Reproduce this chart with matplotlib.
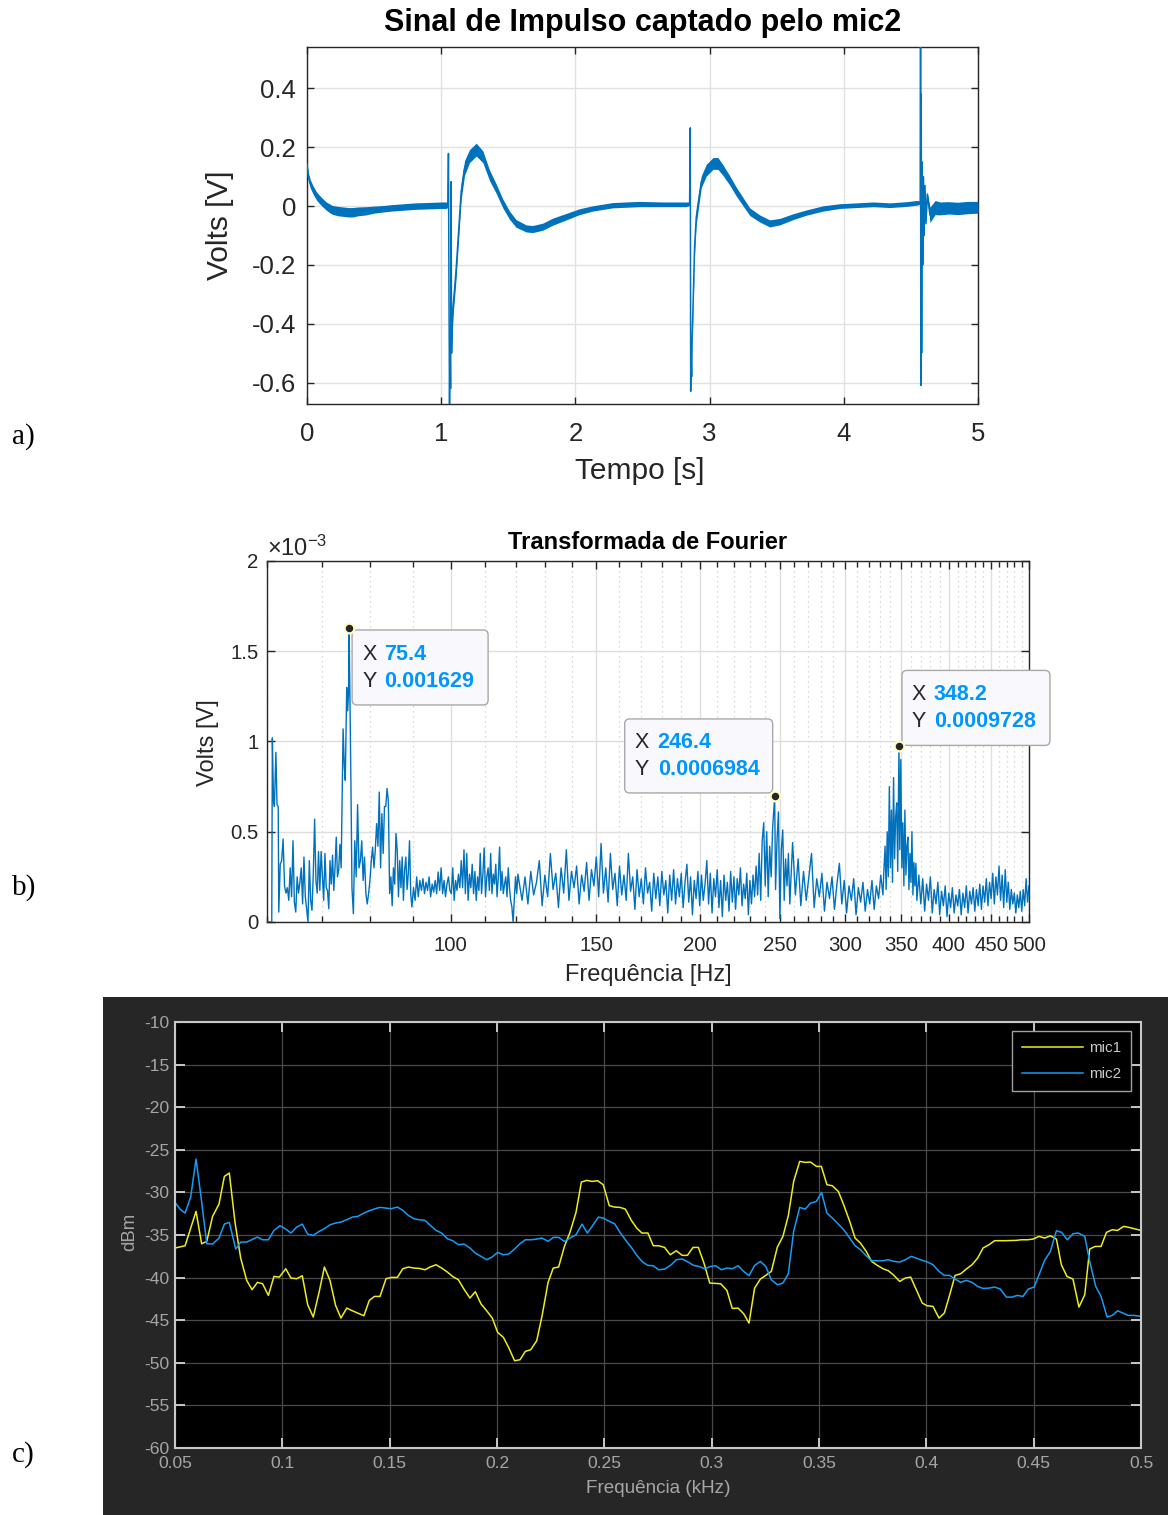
import numpy as np
import matplotlib
matplotlib.use('Agg')
import matplotlib.pyplot as plt
import matplotlib.transforms as mtransforms
from matplotlib.patches import FancyBboxPatch, Rectangle
from matplotlib.ticker import NullFormatter

plt.rcParams['font.family'] = ['Liberation Sans', 'DejaVu Sans']
plt.rcParams['mathtext.fontset'] = 'custom'
plt.rcParams['mathtext.rm'] = 'Liberation Sans'
plt.rcParams['mathtext.default'] = 'regular'
plt.rcParams['axes.unicode_minus'] = False

# ---------------- a) impulse picked up by mic2 ----------------
sig_t = [0.000, 0.010, 0.025, 0.045, 0.070, 0.094, 0.120, 0.144, 0.170, 0.190,
         0.230, 0.270, 0.310, 0.340, 0.380, 0.440, 0.500, 0.570, 0.630, 0.690,
         0.750, 0.810, 0.880, 0.940, 1.000, 1.040, 1.050, 1.054, 1.058, 1.062,
         1.066, 1.070, 1.074, 1.077, 1.082, 1.087, 1.100, 1.112, 1.131, 1.149,
         1.174, 1.211, 1.261, 1.310, 1.360, 1.409, 1.459, 1.509, 1.558, 1.633,
         1.682, 1.757, 1.831, 1.931, 2.030, 2.129, 2.278, 2.476, 2.650, 2.826,
         2.851, 2.856, 2.859, 2.862, 2.866, 2.870, 2.876, 2.888, 2.900, 2.920,
         2.938, 2.975, 3.025, 3.062, 3.100, 3.149, 3.199, 3.249, 3.299, 3.373,
         3.448, 3.522, 3.622, 3.721, 3.846, 3.970, 4.095, 4.219, 4.343, 4.468,
         4.542, 4.570, 4.572, 4.574, 4.577, 4.580, 4.584, 4.588, 4.593, 4.598,
         4.605, 4.612, 4.622, 4.642, 4.680, 4.716, 4.780, 4.850, 4.920, 5.000]
sig_v = [0.140, 0.100, 0.075, 0.055, 0.035, 0.022, 0.010, 0.000, -0.008, -0.013,
         -0.017, -0.019, -0.021, -0.021, -0.018, -0.016, -0.012, -0.009, -0.006, -0.004,
         -0.002, 0.000, 0.001, 0.002, 0.003, 0.003, 0.004, 0.179, -0.300, -0.690,
         -0.450, -0.620, 0.083, -0.500, -0.420, -0.350, -0.280, -0.210, -0.076, 0.050,
         0.130, 0.170, 0.192, 0.168, 0.105, 0.060, 0.009, -0.031, -0.059, -0.076,
         -0.078, -0.070, -0.053, -0.036, -0.019, -0.008, 0.003, 0.007, 0.006, 0.006,
         0.008, 0.266, -0.630, -0.500, -0.580, -0.450, -0.350, -0.140, -0.040, 0.026,
         0.083, 0.122, 0.145, 0.145, 0.122, 0.088, 0.049, 0.015, -0.019, -0.042,
         -0.059, -0.053, -0.036, -0.022, -0.008, 0.000, 0.003, 0.006, 0.003, 0.007,
         0.011, 0.012, 0.560, -0.610, 0.380, -0.500, 0.150, -0.200, 0.100, -0.100,
         0.070, -0.060, 0.040, -0.030, -0.005, -0.008, -0.006, -0.008, -0.005, -0.004]
# half thickness of the noise band around the signal
sig_band = [0.012, 0.014, 0.014, 0.014, 0.014, 0.014, 0.014, 0.014, 0.015, 0.015,
            0.016, 0.016, 0.016, 0.016, 0.015, 0.014, 0.012, 0.011, 0.011, 0.011,
            0.011, 0.011, 0.011, 0.011, 0.011, 0.011, 0.006, 0.003, 0.003, 0.003,
            0.003, 0.003, 0.003, 0.010, 0.020, 0.030, 0.030, 0.030, 0.030, 0.028,
            0.025, 0.022, 0.022, 0.020, 0.018, 0.016, 0.015, 0.014, 0.013, 0.012,
            0.012, 0.012, 0.012, 0.011, 0.010, 0.009, 0.009, 0.009, 0.008, 0.008,
            0.006, 0.003, 0.003, 0.003, 0.003, 0.010, 0.020, 0.025, 0.025, 0.022,
            0.020, 0.020, 0.020, 0.020, 0.018, 0.016, 0.015, 0.014, 0.013, 0.012,
            0.012, 0.011, 0.010, 0.009, 0.009, 0.008, 0.008, 0.008, 0.008, 0.008,
            0.008, 0.006, 0.003, 0.003, 0.003, 0.003, 0.003, 0.003, 0.003, 0.003,
            0.003, 0.003, 0.010, 0.026, 0.024, 0.022, 0.021, 0.021, 0.021, 0.020]
t_ticks = [0, 1, 2, 3, 4, 5]
v_ticks = [-0.6, -0.4, -0.2, 0, 0.2, 0.4]
v_ticklabels = ['-0.6', '-0.4', '-0.2', '0', '0.2', '0.4']

# ---------------- b) Fourier transform (amplitudes in 1e-3 V) ----------------
fft_freq_lo = [60.0, 60.8, 60.9, 61.1, 61.25, 61.5, 61.7, 61.9,
               62.0, 62.25, 62.5, 62.75, 63.0, 63.25, 63.5, 63.75, 64.0, 64.25,
               64.5, 64.75, 65.0, 65.25, 65.5, 65.75, 66.0, 66.25, 66.5, 66.75,
               67.0, 67.25, 67.5, 67.75, 68.0, 68.25, 68.5, 68.75, 69.0, 69.25,
               69.5, 69.75, 70.0, 70.25, 70.5, 70.75, 71.0, 71.25, 71.5, 71.75,
               72.0, 72.25, 72.5, 72.75, 73.0, 73.25, 73.5, 73.75,
               74.15, 74.4, 74.6, 74.9, 75.1, 75.3, 75.4, 75.6, 75.8, 76.0,
               76.3, 76.6, 76.9, 77.2, 77.5, 77.8, 78.1, 78.4, 78.7, 79.0,
               79.3, 79.6, 79.9, 80.2, 80.5, 80.8, 81.1, 81.4, 81.7, 82.0,
               82.3, 82.6, 82.9, 83.2, 83.5, 83.8, 84.1, 84.4, 84.7, 85.0,
               85.3, 85.6, 85.9, 86.2, 86.5, 86.8, 87.1, 87.4, 87.7, 88.0,
               88.3, 88.6, 88.9, 89.2, 89.5, 89.8,
               90.2, 90.6, 91.0, 91.4, 91.8, 92.2, 92.6, 93.0, 93.4, 93.8,
               94.2, 94.6, 95.0, 95.4, 95.8, 96.2, 96.6, 97.0, 97.4, 97.8,
               98.2, 98.6, 99.0, 99.4, 99.8, 100.2, 100.6, 101.0, 101.4, 101.8,
               102.2, 102.6, 103.0, 103.4, 103.8, 104.2, 104.6, 105.0, 105.4, 105.8,
               106.2, 106.6, 107.0, 107.4, 107.8, 108.2, 108.6, 109.0, 109.4, 109.8,
               110.2, 110.6, 111.0, 111.4, 111.8, 112.2, 112.6, 113.0, 113.4, 113.8,
               114.2, 114.6, 115.0, 115.4, 115.8, 116.2, 116.6, 117.0, 117.4, 117.8,
               118.2, 118.6, 119.0, 119.4, 119.8, 120.2, 120.6]
fft_amp_lo = [0.0, 0.0, 1.02, 0.67, 0.64, 0.94, 0.65, 0.64,
              0.055, 0.32, 0.34, 0.46, 0.20, 0.16, 0.19, 0.12, 0.30, 0.14,
              0.45, 0.11, 0.055, 0.25, 0.16, 0.22, 0.30, 0.10, 0.36, 0.14,
              0.07, 0.0, 0.34, 0.12, 0.065, 0.27, 0.57, 0.23, 0.16, 0.39,
              0.175, 0.39, 0.25, 0.12, 0.38, 0.19, 0.175, 0.074, 0.34, 0.21,
              0.37, 0.175, 0.30, 0.47, 0.25, 0.29, 0.43, 0.30,
              1.07, 0.86, 0.785, 1.30, 1.17, 1.28, 1.629, 1.17, 0.73, 0.19,
              0.046, 0.45, 0.25, 0.65, 0.30, 0.34, 0.45, 0.23, 0.36, 0.157,
              0.10, 0.157, 0.23, 0.34, 0.415, 0.30, 0.40, 0.545, 0.42, 0.72,
              0.30, 0.60, 0.38, 0.64, 0.64, 0.74, 0.67, 0.157, 0.25, 0.09,
              0.30, 0.21, 0.49, 0.40, 0.14, 0.34, 0.19, 0.36, 0.12, 0.29,
              0.36, 0.18, 0.27, 0.45, 0.157, 0.083,
              0.19, 0.12, 0.25, 0.14, 0.23, 0.175, 0.24, 0.157, 0.22, 0.175,
              0.25, 0.14, 0.21, 0.166, 0.23, 0.157, 0.277, 0.175, 0.30, 0.157,
              0.23, 0.14, 0.21, 0.25, 0.175, 0.157, 0.30, 0.12, 0.23, 0.175,
              0.265, 0.19, 0.34, 0.19, 0.40, 0.157, 0.38, 0.12, 0.265, 0.19,
              0.32, 0.157, 0.28, 0.12, 0.25, 0.175, 0.38, 0.157, 0.265, 0.41,
              0.14, 0.25, 0.30, 0.175, 0.38, 0.157, 0.265, 0.21, 0.32, 0.14,
              0.25, 0.415, 0.175, 0.28, 0.157, 0.21, 0.25, 0.14, 0.30, 0.19,
              0.12, 0.083, 0.0, 0.12, 0.25, 0.157, 0.265]
fft_freq_hi = [122, 123, 124, 125, 126, 127, 128, 129, 130, 131,
               132, 133, 134, 135, 136, 137, 138, 139, 140, 141,
               142, 143, 144, 145, 146, 147, 148, 149, 150, 151,
               152, 153, 154, 155, 156, 157, 158, 159, 160, 161,
               162, 163, 164, 165, 166, 167, 168, 169, 170, 171,
               172, 173, 174, 175, 176, 177, 178, 179, 180, 181,
               182, 183, 184, 185, 186, 187, 188, 189, 190, 191,
               192, 193, 194, 195, 196, 197, 198, 199, 200, 201,
               202, 203, 204, 205, 206, 207, 208, 209, 210, 211,
               212, 213, 214, 215, 216, 217, 218, 219, 220, 221,
               222, 223, 224, 225, 226, 227, 228, 229, 230, 231,
               232, 233, 234,
               235, 236, 237, 238, 239, 240, 241, 242, 243, 244,
               245, 246.4, 247, 248, 249, 250, 251, 252, 253, 254,
               255, 256, 257,
               259, 261, 263, 265, 267, 269, 271, 273, 275, 277,
               279, 281, 283, 285, 287, 289, 291, 293, 295, 297,
               299, 301, 303, 305, 307, 309, 311, 313, 315, 317,
               319, 321, 323, 325, 327, 329, 331, 333,
               334, 335, 336, 337, 338, 339, 340, 341, 342, 343,
               344, 345, 346, 347, 348.2, 349, 350, 351, 352, 353,
               354, 355, 356, 357, 358, 359, 360, 361, 362, 363,
               364, 365, 366,
               368, 370, 372, 374, 376, 378, 380, 382, 384, 386,
               388, 390, 392, 394, 396, 398, 400, 402, 404, 406,
               408, 410, 412, 414, 416, 418, 420, 422, 424, 426,
               428, 430, 432, 434, 436, 438, 440, 442, 444, 446,
               448, 450, 452, 454, 456, 458, 460, 462, 464, 466,
               468, 470, 472, 474, 476, 478, 480, 482, 484, 486,
               488, 490, 492, 494, 496, 498, 500]
fft_amp_hi = [0.12, 0.25, 0.10, 0.28, 0.15, 0.22, 0.34, 0.09, 0.26, 0.14,
              0.38, 0.18, 0.27, 0.08, 0.30, 0.16, 0.40, 0.12, 0.28, 0.19,
              0.31, 0.10, 0.26, 0.17, 0.33, 0.12, 0.29, 0.20, 0.36, 0.14,
              0.435, 0.16, 0.30, 0.11, 0.38, 0.18, 0.27, 0.09, 0.31, 0.15,
              0.26, 0.12, 0.38, 0.17, 0.25, 0.07, 0.29, 0.14, 0.24, 0.10,
              0.30, 0.16, 0.22, 0.06, 0.27, 0.13, 0.25, 0.09, 0.28, 0.15,
              0.23, 0.05, 0.26, 0.12, 0.29, 0.10, 0.24, 0.14, 0.27, 0.08,
              0.22, 0.32, 0.11, 0.25, 0.04, 0.23, 0.13, 0.28, 0.09, 0.26,
              0.12, 0.21, 0.34, 0.10, 0.27, 0.05, 0.24, 0.14, 0.29, 0.08,
              0.23, 0.03, 0.26, 0.12, 0.22, 0.06, 0.28, 0.11, 0.25, 0.07,
              0.24, 0.15, 0.30, 0.09, 0.21, 0.13, 0.27, 0.04, 0.23, 0.10,
              0.26, 0.14, 0.31,
              0.15, 0.38, 0.12, 0.45, 0.55, 0.20, 0.50, 0.14, 0.42, 0.25,
              0.52, 0.6984, 0.18, 0.45, 0.61, 0.02, 0.40, 0.51, 0.12, 0.35,
              0.20, 0.38, 0.10,
              0.44, 0.15, 0.35, 0.09, 0.28, 0.12, 0.25, 0.38, 0.08, 0.24,
              0.14, 0.27, 0.06, 0.22, 0.13, 0.25, 0.07, 0.21, 0.325, 0.10,
              0.23, 0.05, 0.20, 0.12, 0.24, 0.04, 0.19, 0.11, 0.22, 0.06,
              0.18, 0.10, 0.23, 0.07, 0.20, 0.13, 0.26, 0.15,
              0.30, 0.42, 0.18, 0.50, 0.25, 0.75, 0.30, 0.62, 0.22, 0.80,
              0.35, 0.58, 0.66, 0.28, 0.9728, 0.40, 0.90, 0.30, 0.55, 0.20,
              0.62, 0.26, 0.42, 0.47, 0.18, 0.38, 0.22, 0.50, 0.15, 0.33,
              0.20, 0.325, 0.12,
              0.26, 0.10, 0.24, 0.06, 0.21, 0.12, 0.25, 0.05, 0.18, 0.10,
              0.22, 0.04, 0.17, 0.09, 0.20, 0.03, 0.16, 0.08, 0.19, 0.05,
              0.15, 0.09, 0.18, 0.04, 0.16, 0.08, 0.20, 0.05, 0.17, 0.10,
              0.19, 0.06, 0.18, 0.09, 0.21, 0.07, 0.20, 0.11, 0.24, 0.09,
              0.22, 0.13, 0.27, 0.10, 0.25, 0.15, 0.31, 0.12, 0.26, 0.08,
              0.29, 0.11, 0.22, 0.07, 0.18, 0.10, 0.16, 0.05, 0.15, 0.08,
              0.17, 0.06, 0.18, 0.09, 0.24, 0.11, 0.20]
freq_ticks = [100, 150, 200, 250, 300, 350, 400, 450, 500]
freq_minor = [60, 70, 80, 90] + [f for f in range(110, 500, 10) if f % 50 != 0]
amp_ticks = [0, 0.5e-3, 1e-3, 1.5e-3, 2e-3]
amp_ticklabels = ['0', '0.5', '1', '1.5', '2']
# data tips: frequency [Hz], value [V]
tips = [(75.4, 0.001629), (246.4, 0.0006984), (348.2, 0.0009728)]
tip_text = [('75.4', '0.001629'), ('246.4', '0.0006984'), ('348.2', '0.0009728')]

# ---------------- c) spectrum of both microphones ----------------
mic1_khz = [0.0500, 0.0547, 0.0598, 0.0624, 0.0648, 0.0675, 0.0705, 0.0730, 0.0753, 0.0780,
            0.0806, 0.0834, 0.0859, 0.0884, 0.0908, 0.0935, 0.0961, 0.0986, 0.1016, 0.1040,
            0.1067, 0.1093, 0.1118, 0.1144, 0.1171, 0.1196, 0.1222, 0.1248, 0.1273, 0.1300,
            0.1326, 0.1351, 0.1380, 0.1405, 0.1429, 0.1455, 0.1483, 0.1509, 0.1536, 0.1561,
            0.1587, 0.1613, 0.1638, 0.1665, 0.1688, 0.1716, 0.1742, 0.1769, 0.1793, 0.1820,
            0.1846, 0.1874, 0.1899, 0.1925, 0.1952, 0.1978, 0.2003, 0.2030, 0.2054, 0.2082,
            0.2107, 0.2132, 0.2157, 0.2185, 0.2210, 0.2238, 0.2262, 0.2287, 0.2314, 0.2340,
            0.2368, 0.2393, 0.2418, 0.2443, 0.2469, 0.2495, 0.2523, 0.2548, 0.2573, 0.2598,
            0.2626, 0.2651, 0.2675, 0.2703, 0.2728, 0.2753, 0.2781,
            0.2807, 0.2835, 0.2863, 0.2887, 0.2913, 0.2938, 0.2964, 0.2991, 0.3016, 0.3042,
            0.3071, 0.3096, 0.3123, 0.3149, 0.3174, 0.3200, 0.3227, 0.3252, 0.3278, 0.3306,
            0.3332, 0.3357, 0.3382, 0.3410, 0.3436, 0.3461, 0.3488, 0.3511, 0.3537, 0.3562,
            0.3590, 0.3615, 0.3643, 0.3668, 0.3693, 0.3720, 0.3745, 0.3772, 0.3798, 0.3823,
            0.3849, 0.3876, 0.3902, 0.3927, 0.3953, 0.3981, 0.4003, 0.4031, 0.4059, 0.4084,
            0.4109, 0.4134, 0.4160, 0.4186, 0.4213, 0.4239, 0.4264, 0.4292, 0.4318, 0.4368,
            0.4419, 0.4443, 0.4472, 0.4497, 0.4525, 0.4551, 0.4578, 0.4606, 0.4629, 0.4655,
            0.4683, 0.4711, 0.4738, 0.4761, 0.4786, 0.4814, 0.4839, 0.4866, 0.4891, 0.4919,
            0.4944, 0.5000]
mic1_dbm = [-36.53, -36.26, -32.23, -36.03, -35.75, -32.82, -31.37, -28.12, -27.73, -33.60,
            -37.71, -40.33, -41.42, -40.56, -40.72, -42.09, -39.86, -39.94, -38.96, -40.05,
            -40.13, -39.78, -43.18, -44.63, -41.74, -38.76, -40.33, -43.26, -44.75, -43.58,
            -43.89, -44.16, -44.48, -42.68, -42.21, -42.21, -40.13, -39.98, -39.98, -38.96,
            -38.76, -38.88, -38.92, -39.08, -38.76, -38.49, -38.88, -39.35, -39.86, -40.25,
            -41.35, -42.40, -41.66, -43.07, -43.89, -44.75, -46.43, -47.02, -48.19, -49.76,
            -49.64, -48.66, -48.47, -47.41, -44.48, -40.56, -38.88, -38.76, -36.34, -34.69,
            -32.35, -28.79, -28.59, -28.71, -28.63, -29.10, -31.56, -31.72, -31.76, -31.96,
            -33.29, -34.19, -34.77, -34.77, -36.26, -36.26, -36.46,
            -37.32, -36.85, -37.39, -37.39, -36.46, -36.46, -38.29, -40.64, -40.68, -40.72,
            -41.50, -43.62, -43.58, -44.24, -45.34, -41.23, -40.17, -39.74, -39.27, -36.42,
            -35.16, -32.74, -28.71, -26.36, -26.48, -26.44, -26.95, -26.95, -29.10, -29.22,
            -29.88, -31.45, -33.40, -35.36, -35.95, -36.92, -38.10, -38.57, -38.96, -39.19,
            -39.74, -40.45, -40.05, -39.94, -41.42, -42.99, -43.30, -43.38, -44.75, -44.16,
            -42.01, -39.74, -39.55, -39.00, -38.49, -37.71, -36.53, -36.14, -35.67, -35.67,
            -35.63, -35.56, -35.56, -35.48, -35.16, -35.36, -35.09, -35.48, -38.49, -39.86,
            -40.17, -43.46, -42.01, -36.65, -36.34, -36.34, -34.69, -34.38, -34.46, -33.99,
            -34.11, -34.46]
mic2_khz = [0.0500, 0.0523, 0.0547, 0.0573, 0.0598, 0.0624, 0.0648, 0.0675, 0.0705, 0.0730,
            0.0753, 0.0783, 0.0806, 0.0834, 0.0884, 0.0908, 0.0935, 0.0961, 0.0989, 0.1016,
            0.1040, 0.1067, 0.1093, 0.1118, 0.1144, 0.1171, 0.1196, 0.1222, 0.1248, 0.1273,
            0.1300, 0.1326, 0.1351, 0.1380, 0.1405, 0.1432, 0.1455, 0.1483, 0.1506, 0.1536,
            0.1561, 0.1587, 0.1613, 0.1638, 0.1665, 0.1691, 0.1716, 0.1742, 0.1769, 0.1793,
            0.1820, 0.1846, 0.1874, 0.1899, 0.1925, 0.1952, 0.1977, 0.2003, 0.2030, 0.2054,
            0.2082, 0.2107, 0.2132, 0.2157, 0.2185, 0.2210, 0.2238, 0.2262, 0.2287, 0.2314,
            0.2340, 0.2368, 0.2396, 0.2421, 0.2446, 0.2472, 0.2495, 0.2523, 0.2548, 0.2573,
            0.2598, 0.2626, 0.2651, 0.2679, 0.2703, 0.2728, 0.2753, 0.2781,
            0.2812, 0.2835, 0.2863, 0.2890, 0.2916, 0.2941, 0.2967, 0.2994, 0.3019, 0.3045,
            0.3071, 0.3096, 0.3123, 0.3149, 0.3174, 0.3200, 0.3227, 0.3252, 0.3278, 0.3306,
            0.3332, 0.3357, 0.3382, 0.3410, 0.3436, 0.3461, 0.3488, 0.3512, 0.3537, 0.3562,
            0.3590, 0.3615, 0.3643, 0.3668, 0.3693, 0.3720, 0.3745, 0.3772, 0.3798, 0.3823,
            0.3849, 0.3876, 0.3902, 0.3930, 0.3953, 0.3981, 0.4006, 0.4031, 0.4059, 0.4084,
            0.4109, 0.4134, 0.4160, 0.4186, 0.4213, 0.4239, 0.4264, 0.4292, 0.4318, 0.4345,
            0.4373, 0.4398, 0.4424, 0.4450, 0.4475, 0.4502, 0.4528, 0.4551, 0.4578, 0.4606,
            0.4630, 0.4657, 0.4683, 0.4708, 0.4738, 0.4761, 0.4789, 0.4814, 0.4842, 0.4866,
            0.4891, 0.4916, 0.4941, 0.4969, 0.5000]
mic2_dbm = [-31.17, -31.96, -32.43, -30.55, -26.09, -31.06, -36.03, -36.06, -35.36, -33.72,
            -33.52, -36.65, -35.83, -35.83, -35.24, -35.56, -35.56, -34.46, -33.91, -34.30,
            -34.77, -34.07, -33.72, -34.89, -35.05, -34.58, -34.26, -33.80, -33.60, -33.48,
            -33.21, -32.90, -32.82, -32.43, -32.15, -31.92, -31.76, -31.84, -31.92, -31.72,
            -32.11, -32.70, -33.09, -33.21, -33.29, -33.91, -34.46, -34.77, -35.44, -35.67,
            -36.14, -36.06, -36.53, -37.12, -37.51, -37.90, -37.59, -37.04, -37.32, -37.24,
            -36.65, -36.03, -35.56, -35.56, -35.48, -35.36, -35.75, -35.28, -35.28, -35.75,
            -35.36, -34.97, -33.72, -34.77, -33.87, -32.90, -33.01, -33.40, -33.68, -34.69,
            -35.56, -36.46, -37.39, -38.18, -38.57, -38.61, -39.08, -39.00,
            -38.49, -37.90, -37.82, -38.18, -38.57, -38.69, -38.96, -38.69, -38.61, -39.08,
            -38.88, -38.96, -38.61, -39.27, -39.78, -38.57, -38.10, -38.69, -40.25, -40.84,
            -40.64, -39.55, -34.58, -31.76, -31.96, -31.25, -31.06, -30.00, -32.43, -33.01,
            -33.72, -34.38, -35.36, -36.26, -36.73, -37.43, -38.02, -38.02, -38.02, -37.90,
            -38.10, -38.18, -37.90, -37.51, -37.71, -37.98, -38.18, -38.49, -39.27, -39.74,
            -39.74, -40.17, -40.56, -40.33, -40.56, -41.03, -41.27, -41.23, -41.11, -41.35,
            -42.29, -42.29, -42.09, -42.21, -41.35, -41.11, -39.47, -37.98, -36.92, -34.50,
            -34.69, -35.56, -34.85, -34.77, -35.16, -38.10, -41.03, -42.21, -44.63, -44.44,
            -43.89, -44.16, -44.44, -44.44, -44.55]
khz_ticks = [0.05, 0.1, 0.15, 0.2, 0.25, 0.3, 0.35, 0.4, 0.45, 0.5]
khz_ticklabels = ['0.05', '0.1', '0.15', '0.2', '0.25', '0.3', '0.35', '0.4', '0.45', '0.5']
dbm_ticks = [-60, -55, -50, -45, -40, -35, -30, -25, -20, -15, -10]

MATLAB_BLUE = '#0072bd'
TXT = '#262626'
W, H = 1168.0, 1515.0


def px_box(left, top, right, bottom):
    # axes rectangle from pixel edges of the 1168x1515 canvas
    return [left / W, 1 - bottom / H, (right - left) / W, (bottom - top) / H]


fig = plt.figure(figsize=(11.68, 15.15), dpi=100)
fig.patch.set_facecolor('white')

# ---------- a) ----------
ax = fig.add_axes(px_box(307, 47, 978, 404))
t = np.array(sig_t)
v = np.array(sig_v)
band = np.array(sig_band)
ax.fill_between(t, v - band, v + band, color=MATLAB_BLUE, lw=0, zorder=3)
ax.plot(t, v, color=MATLAB_BLUE, lw=1.1, zorder=3)
ax.set_xlim(0, 5)
ax.set_ylim(-0.673, 0.541)
ax.set_xticks(t_ticks)
ax.set_xticklabels([str(x) for x in t_ticks])
ax.set_yticks(v_ticks)
ax.set_yticklabels(v_ticklabels)
ax.grid(True, color='#e1e1e1', lw=1.0)
ax.set_axisbelow(True)
ax.tick_params(direction='in', length=5, width=1.0, top=True, right=True,
               labelsize=18.5, colors=TXT)
ax.tick_params(axis='x', pad=13)
ax.tick_params(axis='y', pad=8)
for s in ax.spines.values():
    s.set_color(TXT)
    s.set_linewidth(1.0)
ax.set_ylabel('Volts [V]', fontsize=21.5, color=TXT, ha='center', va='center')
ax.yaxis.set_label_coords(-0.13, 0.5)
ax.set_xlabel('Tempo [s]', fontsize=21.5, color=TXT, ha='center', va='center')
ax.xaxis.set_label_coords(0.496, -0.188)
ax.text(0.5, 1.067, 'Sinal de Impulso captado pelo mic2', transform=ax.transAxes,
        ha='center', va='center', fontsize=22, fontweight='bold', color='black')

# ---------- b) ----------
bx = fig.add_axes(px_box(267, 561, 1029, 922))
freq = np.array(fft_freq_lo + fft_freq_hi, dtype=float)
amp = np.array(fft_amp_lo + fft_amp_hi) * 1e-3
bx.plot(freq, amp, color=MATLAB_BLUE, lw=1.0, zorder=3)
bx.set_xscale('log')
bx.set_xlim(60, 500)
bx.set_ylim(0, 2e-3)
bx.set_xticks(freq_ticks)
bx.set_xticklabels([str(f) for f in freq_ticks])
bx.set_xticks(freq_minor, minor=True)
bx.xaxis.set_minor_formatter(NullFormatter())
bx.set_yticks(amp_ticks)
bx.set_yticklabels(amp_ticklabels)
bx.grid(True, which='major', color='#dedede', lw=1.0)
bx.grid(True, which='minor', axis='x', color='#cccccc', lw=0.9, ls=(0, (1, 3)))
bx.set_axisbelow(True)
bx.tick_params(which='both', direction='in', top=True, right=True, colors=TXT, width=1.0)
bx.tick_params(which='major', length=6, labelsize=14.7)
bx.tick_params(which='minor', length=4)
bx.tick_params(axis='x', which='major', pad=10)
bx.tick_params(axis='y', pad=6)
for s in bx.spines.values():
    s.set_color(TXT)
    s.set_linewidth(1.0)
bx.set_ylabel('Volts [V]', fontsize=17, color=TXT, ha='center', va='center')
bx.yaxis.set_label_coords(-0.078, 0.496)
bx.set_xlabel('Frequência [Hz]', fontsize=17, color=TXT, ha='center', va='center')
bx.xaxis.set_label_coords(0.5, -0.147)
bx.text(0.5, 1.05, 'Transformada de Fourier', transform=bx.transAxes,
        ha='center', va='center', fontsize=17, fontweight='bold', color='black')
bx.text(0.0, 1.0, r'$\times10^{-3}$', transform=bx.transAxes,
        ha='left', va='bottom', fontsize=17, color=TXT)

# data tip boxes, offsets in inches from the marked point
tip_layout = [
    # box (x0, y0, w, h), X row y, Y row y, label x, value x
    ((0.03, -0.77, 1.36, 0.75), -0.27, -0.54, 0.13, 0.35),
    ((-1.50, 0.03, 1.48, 0.74), 0.53, 0.26, -1.40, -1.17),
    ((0.03, 0.01, 1.48, 0.75), 0.52, 0.25, 0.13, 0.35),
]
for (f, a), (xs, ys), (bb, yx, yy, lx, vx) in zip(tips, tip_text, tip_layout):
    bx.plot([f], [a], 'o', ms=7, mfc='#262626', mec='#fffbc6', mew=1.6,
            zorder=7, clip_on=False)
    xd, yd = bx.transData.transform((f, a))
    tr = fig.dpi_scale_trans + mtransforms.Affine2D().translate(xd, yd)
    box = FancyBboxPatch((bb[0], bb[1]), bb[2], bb[3],
                         boxstyle='round,pad=0,rounding_size=0.05',
                         fc='#f9f9fd', ec='#a8a8a8', lw=1.0,
                         transform=tr, zorder=6, clip_on=False)
    bx.add_artist(box)
    bx.text(lx, yx, 'X', transform=tr, ha='left', va='center', fontsize=15.5,
            color=TXT, zorder=8)
    bx.text(vx, yx, xs, transform=tr, ha='left', va='center', fontsize=15.5,
            color='#0096ff', fontweight='bold', zorder=8)
    bx.text(lx, yy, 'Y', transform=tr, ha='left', va='center', fontsize=15.5,
            color=TXT, zorder=8)
    bx.text(vx, yy, ys, transform=tr, ha='left', va='center', fontsize=15.5,
            color='#0096ff', fontweight='bold', zorder=8)

# ---------- c) ----------
fig.add_artist(Rectangle((103 / W, 0), 1 - 103 / W, 518 / H, transform=fig.transFigure,
                         fc='#262626', ec='none', zorder=-1))
cx = fig.add_axes(px_box(175, 1022, 1141, 1448))
cx.set_facecolor('black')
cx.plot(mic1_khz, mic1_dbm, color='#eded1c', lw=1.1, label='mic1')
cx.plot(mic2_khz, mic2_dbm, color='#169cf5', lw=1.1, label='mic2')
cx.set_xlim(0.05, 0.5)
cx.set_ylim(-60, -10)
cx.set_xticks(khz_ticks)
cx.set_xticklabels(khz_ticklabels)
cx.set_yticks(dbm_ticks)
cx.set_yticklabels([str(d) for d in dbm_ticks])
cx.grid(True, color='#4a4a4a', lw=0.9)
cx.set_axisbelow(True)
cx.tick_params(direction='in', length=7, width=1.4, top=True, right=True,
               color='#c8c8c8', labelcolor='#a6a6a6', labelsize=12.6)
cx.tick_params(axis='x', pad=6)
cx.tick_params(axis='y', pad=4)
for s in cx.spines.values():
    s.set_color('#c8c8c8')
    s.set_linewidth(1.5)
cx.set_ylabel('dBm', fontsize=13.4, color='#a6a6a6', ha='center', va='center')
cx.yaxis.set_label_coords(-0.0466, 0.507)
cx.set_xlabel('Frequência (kHz)', fontsize=13.6, color='#a6a6a6', ha='center', va='center')
cx.xaxis.set_label_coords(0.5, -0.096)
leg = cx.legend(loc='upper right', bbox_to_anchor=(0.9896, 0.9789), borderaxespad=0,
                fontsize=11, handlelength=4.0, handletextpad=0.4, labelspacing=0.8,
                borderpad=0.65, fancybox=False, framealpha=1)
leg.get_frame().set_facecolor('black')
leg.get_frame().set_edgecolor('#a0a0a0')
leg.get_frame().set_linewidth(1.0)
for txt in leg.get_texts():
    txt.set_color('#c8c8c8')

# panel letters
for lab, ypx in [('a)', 437), ('b)', 888), ('c)', 1455)]:
    fig.text(12 / W, 1 - ypx / H, lab, family='Liberation Serif', fontsize=21,
             ha='left', va='center', color='black')

fig.savefig('out.png', dpi=100)
